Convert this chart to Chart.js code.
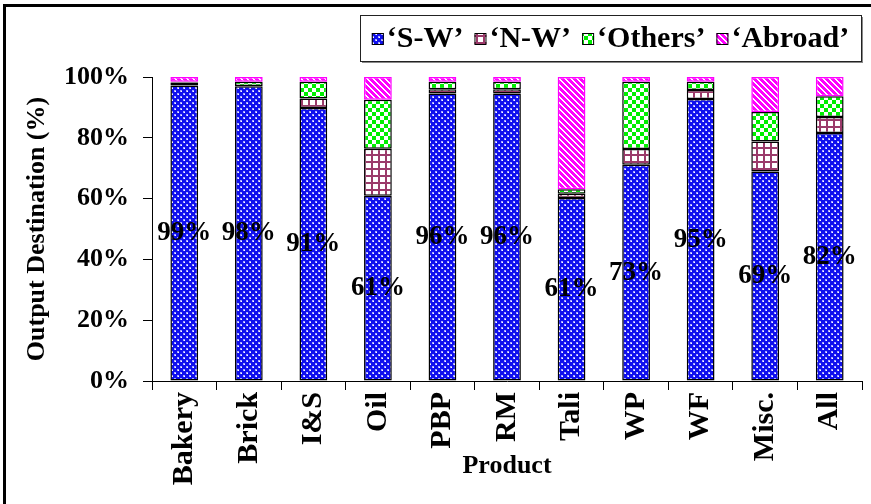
<!DOCTYPE html>
<html>
<head>
<meta charset="utf-8">
<script src="https://cdn.jsdelivr.net/npm/chart.js@4/dist/chart.umd.min.js"></script>
<style>
  html, body { margin: 0; padding: 0; background: #fff; }
  #wrap { width: 871px; height: 504px; position: relative; }
</style>
</head>
<body>
<div id="wrap"><canvas id="c" width="871" height="504"></canvas></div>
<script>
// Output destination shares by product (raw survey percentages)
const categories = ['Bakery', 'Brick', 'I&S', 'Oil', 'PBP', 'RM', 'Tali', 'WP', 'WF', 'Misc.', 'All'];
const southWest = [99, 98, 91, 61, 96, 96, 61, 73, 95, 69, 82];
const northWest = [1.0, 0.1, 3.1, 15.5, 1.4, 1.4, 1.4, 5.3, 3.0, 9.9, 5.3];
const others    = [0.25, 1.4, 5.6, 16.1, 2.5, 2.5, 1.5, 22.7, 2.8, 9.7, 6.8];
const abroad    = [1.6, 1.6, 1.6, 7.5, 1.6, 1.6, 37.4, 1.6, 1.6, 11.5, 6.4];
const yTicks = [0, 20, 40, 60, 80, 100];
const seriesNames = ['\u2018S-W\u2019', '\u2018N-W\u2019', '\u2018Others\u2019', '\u2018Abroad\u2019'];

const FONT = 'Liberation Serif';

// each column is shown as a 100% stack
const totals = categories.map((_, i) => southWest[i] + northWest[i] + others[i] + abroad[i]);
const toShare = arr => arr.map((v, i) => v / totals[i] * 100);

function makePattern(size, paint) {
  const c = document.createElement('canvas');
  c.width = size; c.height = size;
  const g = c.getContext('2d');
  paint(g, size);
  return document.getElementById('c').getContext('2d').createPattern(c, 'repeat');
}

const swFill = makePattern(6, (g, s) => {
  g.fillStyle = '#1010ee'; g.fillRect(0, 0, s, s);
  g.fillStyle = '#a8a8ff';
  g.fillRect(0, 0, 2, 1); g.fillRect(0, 1, 1, 1);
  g.fillRect(3, 3, 2, 1); g.fillRect(3, 4, 1, 1);
  g.fillStyle = '#ffffff';
  g.fillRect(1, 1, 1, 1); g.fillRect(4, 4, 1, 1);
});
const nwFill = makePattern(7, (g, s) => {
  g.fillStyle = '#ffffff'; g.fillRect(0, 0, s, s);
  g.fillStyle = '#9b3a6a';
  g.fillRect(0, 0, s, 2); g.fillRect(0, 0, 2, s);
});
const othersFill = makePattern(8, (g, s) => {
  g.fillStyle = '#00ee00'; g.fillRect(0, 0, s, s);
  g.fillStyle = '#ffffff';
  g.fillRect(0, 0, 4, 4); g.fillRect(4, 4, 4, 4);
});
const abroadFill = makePattern(6, (g, s) => {
  g.fillStyle = '#ff00ff'; g.fillRect(0, 0, s, s);
  g.fillStyle = '#ffffff';
  for (let y = 0; y < s; y++) for (let x = 0; x < s; x++) {
    if (((x - y) % s + s) % s < 2) g.fillRect(x, y, 1, 1);
  }
});

const fills = [swFill, nwFill, othersFill, abroadFill];
const edges = ['#000000', '#000000', '#000000', '#ff00ff'];
const rawSeries = [southWest, northWest, others, abroad];

const datasets = rawSeries.map((arr, k) => ({
  label: seriesNames[k],
  data: toShare(arr),
  backgroundColor: fills[k],
  borderColor: edges[k],
  borderWidth: 1.5,
  borderSkipped: false,
  categoryPercentage: 0.43,
  barPercentage: 1.0
}));

// frame around the whole figure
const framePlugin = {
  id: 'frame',
  afterDraw(chart) {
    const ctx = chart.ctx;
    ctx.save();
    ctx.fillStyle = '#000';
    ctx.fillRect(3, 4, 868, 3);
    ctx.fillRect(3, 4, 3, 500);
    ctx.restore();
  }
};

// S-W share printed in the middle of its segment
const valueLabels = {
  id: 'valueLabels',
  afterDatasetsDraw(chart) {
    const ctx = chart.ctx;
    const meta = chart.getDatasetMeta(0);
    ctx.save();
    ctx.font = 'bold 27px "' + FONT + '"';
    ctx.fillStyle = '#000';
    ctx.textAlign = 'center';
    ctx.textBaseline = 'middle';
    meta.data.forEach((bar, i) => {
      ctx.fillText(southWest[i] + '%', bar.x, (bar.y + bar.base) / 2);
    });
    ctx.restore();
  }
};

// boxed legend in the top-right corner
const boxedLegend = {
  id: 'boxedLegend',
  afterDraw(chart) {
    const ctx = chart.ctx;
    const box = { x: 360, y: 15, w: 501, h: 46 };
    ctx.save();
    ctx.fillStyle = '#888';
    ctx.fillRect(box.x + 2, box.y + box.h, box.w, 2);
    ctx.fillRect(box.x + box.w, box.y + 2, 2, box.h);
    ctx.fillStyle = '#fff';
    ctx.fillRect(box.x, box.y, box.w, box.h);
    ctx.strokeStyle = '#222';
    ctx.lineWidth = 1;
    ctx.strokeRect(box.x + 0.5, box.y + 0.5, box.w, box.h);

    ctx.font = 'bold 30px "' + FONT + '"';
    ctx.textBaseline = 'middle';
    const sw = 12, gapBox = 3, gapItem = 11;
    const widths = seriesNames.map(t => ctx.measureText(t).width);
    const total = widths.reduce((a, w) => a + sw + gapBox + w, 0) + gapItem * (seriesNames.length - 1);
    let x = box.x + (box.w - total) / 2;
    const cy = box.y + box.h / 2 + 1;
    chart.data.datasets.forEach((ds, k) => {
      ctx.fillStyle = ds.backgroundColor;
      ctx.fillRect(x, cy - sw / 2, sw, sw);
      ctx.strokeStyle = '#000';
      ctx.lineWidth = 1;
      ctx.strokeRect(x + 0.5, cy - sw / 2 + 0.5, sw - 1, sw - 1);
      x += sw + gapBox;
      ctx.fillStyle = '#000';
      ctx.fillText(seriesNames[k], x, cy);
      x += widths[k] + gapItem;
    });
    ctx.restore();
  }
};

new Chart(document.getElementById('c'), {
  type: 'bar',
  data: { labels: categories, datasets },
  options: {
    responsive: false,
    animation: false,
    events: [],
    layout: { padding: { left: 0, top: 77, right: 9, bottom: 0 } },
    plugins: {
      legend: { display: false },
      tooltip: { enabled: false },
      title: { display: false }
    },
    scales: {
      x: {
        stacked: true,
        afterFit(scale) { scale.height = 123; },
        border: { display: true, color: '#000', width: 1 },
        grid: { drawOnChartArea: false, drawTicks: true, tickLength: 9, color: '#000', offset: true },
        ticks: {
          minRotation: 90, maxRotation: 90, padding: 2,
          color: '#000',
          font: { family: FONT, size: 30, weight: 'bold' }
        },
        title: {
          display: true, text: 'Product', color: '#000',
          font: { family: FONT, size: 26, weight: 'bold' },
          padding: { top: 0, bottom: 22 }
        }
      },
      y: {
        stacked: true,
        min: 0, max: 100,
        afterFit(scale) { scale.width = 152; },
        afterBuildTicks(scale) { scale.ticks = yTicks.map(v => ({ value: v })); },
        border: { display: true, color: '#000', width: 1 },
        grid: { drawOnChartArea: false, drawTicks: true, tickLength: 9, color: '#000' },
        ticks: {
          padding: 14, color: '#000',
          font: { family: FONT, size: 26, weight: 'bold' },
          callback: v => v + '%'
        },
        title: {
          display: true, text: 'Output Destination (%)', color: '#000',
          font: { family: FONT, size: 26, weight: 'bold' },
          padding: { top: 22, bottom: 0 }
        }
      }
    }
  },
  plugins: [valueLabels, boxedLegend, framePlugin]
});
</script>
</body>
</html>
